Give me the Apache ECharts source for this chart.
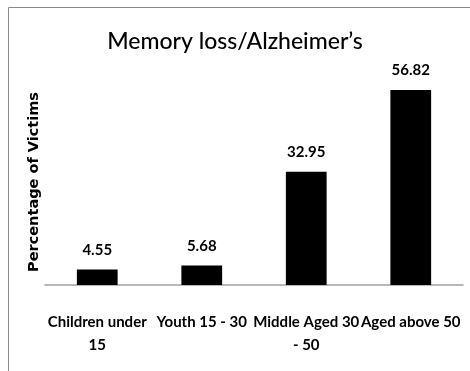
<!DOCTYPE html>
<html>
<head>
<meta charset="utf-8">
<script src="https://cdn.jsdelivr.net/npm/echarts@6/dist/echarts.min.js"></script>
<style>
  html, body { margin: 0; padding: 0; background: #fff; }
  #chart { width: 470px; height: 371px; }
</style>
</head>
<body>
<div id="chart"></div>
<script>
// Age groups and share of victims (%)
const categories = ['Children under\n15', 'Youth 15 - 30', 'Middle Aged 30\n- 50', 'Aged above 50'];
const victimPct = [4.55, 5.68, 32.95, 56.82];
const yMax = 60;

const chart = echarts.init(document.getElementById('chart'));
chart.setOption({
  animation: false,
  backgroundColor: '#fff',
  graphic: [{
    type: 'rect',
    shape: { x: 8.5, y: 7.5, width: 480, height: 400 },
    style: { fill: 'none', stroke: '#8a8a8a', lineWidth: 1 },
    silent: true
  }],
  title: {
    text: 'Memory loss/Alzheimer\u2019s',
    left: 'center',
    top: 25,
    textStyle: { fontFamily: 'Lato', fontSize: 23, fontWeight: 500, color: '#000' }
  },
  grid: { left: 45, right: 7, top: 79, bottom: 86 },
  xAxis: {
    type: 'category',
    data: categories,
    axisLine: { lineStyle: { color: '#a0a0a0', width: 1.5 } },
    axisTick: { show: false },
    axisLabel: {
      interval: 0,
      margin: 26,
      lineHeight: 23,
      fontFamily: 'Lato',
      fontSize: 15,
      fontWeight: 'bold',
      color: '#000'
    }
  },
  yAxis: {
    type: 'value',
    min: 0,
    max: yMax,
    name: 'Percentage of Victims',
    nameLocation: 'middle',
    nameGap: 3,
    nameTextStyle: { fontFamily: 'DejaVu Sans', fontSize: 14.5, fontWeight: 'bold', color: '#000' },
    axisLine: { show: false },
    axisTick: { show: false },
    axisLabel: { show: false },
    splitLine: { show: false }
  },
  series: [{
    type: 'bar',
    data: victimPct,
    barWidth: '39%',
    itemStyle: { color: '#000' },
    label: {
      show: true,
      position: 'top',
      distance: 12,
      fontFamily: 'Lato',
      fontSize: 15,
      fontWeight: 'bold',
      color: '#000',
      formatter: p => p.value.toFixed(2)
    }
  }]
});
</script>
</body>
</html>
